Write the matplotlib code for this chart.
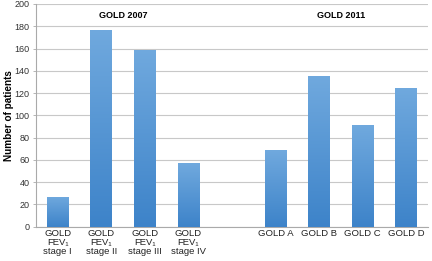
import matplotlib
matplotlib.use("Agg")
import matplotlib.pyplot as plt
import numpy as np
from matplotlib.colors import LinearSegmentedColormap

plt.rcParams['font.family'] = ['Liberation Sans', 'DejaVu Sans']

categories = ["GOLD\nFEV\u2081\nstage I", "GOLD\nFEV\u2081\nstage II", "GOLD\nFEV\u2081\nstage III",
              "GOLD\nFEV\u2081\nstage IV", "", "GOLD A", "GOLD B", "GOLD C", "GOLD D"]
values = [27, 177, 159, 57, np.nan, 69, 135, 91, 125]
group_labels = ["GOLD 2007", "GOLD 2011"]
yticks = list(range(0, 201, 20))

fig = plt.figure(figsize=(4.32, 2.61), dpi=100)
ax = fig.add_axes([0.0833, 0.1314, 0.9074, 0.8533])
x = np.arange(len(categories))
bars = ax.bar(x, values, width=0.5, color="#5b9bd5", zorder=2)
cmap = LinearSegmentedColormap.from_list("g", ["#3d83c9", "#70a9de"])
grad = np.linspace(0, 1, 256).reshape(-1, 1)
for b, v in zip(bars, values):
    if np.isnan(v):
        continue
    im = ax.imshow(grad, cmap=cmap, origin="lower", aspect="auto",
                   extent=[b.get_x(), b.get_x() + b.get_width(), 0, v], zorder=3)
    im.set_clip_path(b)
ax.set_xlim(-0.5, len(categories) - 0.5)
ax.set_ylim(0, 200)
ax.set_yticks(yticks)
ax.set_xticks([i for i, c in enumerate(categories) if c])
ax.set_xticklabels([c for c in categories if c], fontsize=6.8, color="#222222", linespacing=1.0)
ax.tick_params(axis="x", length=0, pad=2)
ax.tick_params(axis="y", length=2.5, width=0.6, color="#aaaaaa", labelsize=6.5, pad=2,
               labelcolor="#333333")
ax.grid(axis="y", color="#c8c8c8", linewidth=0.8, zorder=0)
for s in ["top", "right"]:
    ax.spines[s].set_visible(False)
ax.spines["left"].set_color("#aaaaaa")
ax.spines["bottom"].set_color("#aaaaaa")
ax.set_ylabel("Number of patients", fontsize=7.2, fontweight="bold")
ax.yaxis.set_label_coords(-0.056, 0.5)
ax.text(1.5, 190, group_labels[0], ha="center", va="center", fontsize=6.5, fontweight="bold")
ax.text(6.5, 190, group_labels[1], ha="center", va="center", fontsize=6.5, fontweight="bold")
fig.savefig("out.png", dpi=100)
